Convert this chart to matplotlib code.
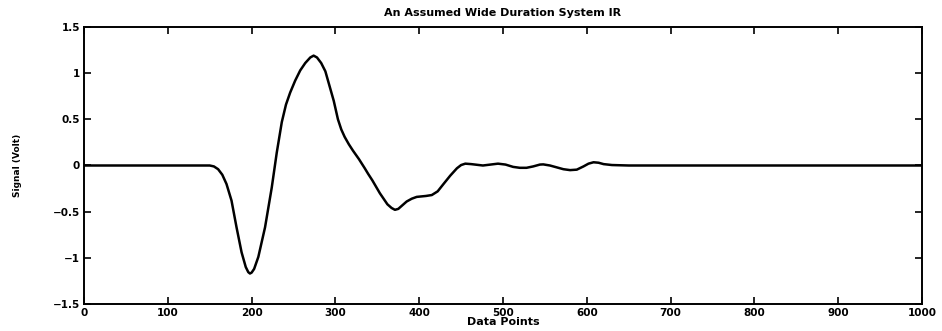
import matplotlib
matplotlib.use("Agg")
import matplotlib.pyplot as plt

# impulse response (data point, volt)
points = [0, 100, 150, 155, 160, 165, 170, 176, 182, 188, 193, 196, 198, 200,
          203, 208, 216, 224, 230, 236, 241, 246, 252, 258, 264, 270, 274, 278,
          283, 288, 293, 298, 303, 307, 311, 316, 321, 328, 335, 339, 344, 353,
          362, 367, 371, 375, 380, 385, 391, 397, 408, 415, 422, 429, 437, 445,
          450, 455, 462, 476, 485, 494, 503, 512, 520, 528, 536, 544, 548, 556,
          564, 572, 580, 588, 596, 602, 608, 614, 620, 630, 650, 1000]
signal = [0, 0, 0, -0.01, -0.04, -0.10, -0.20, -0.38, -0.67, -0.94, -1.10, -1.155,
          -1.17, -1.16, -1.12, -0.99, -0.67, -0.24, 0.14, 0.47, 0.66, 0.79, 0.92,
          1.03, 1.11, 1.17, 1.19, 1.17, 1.11, 1.02, 0.86, 0.70, 0.50, 0.39, 0.31,
          0.23, 0.16, 0.07, -0.03, -0.09, -0.16, -0.30, -0.42, -0.46, -0.48,
          -0.47, -0.43, -0.39, -0.36, -0.34, -0.33, -0.32, -0.28, -0.20, -0.11,
          -0.03, 0.005, 0.02, 0.015, 0.0, 0.01, 0.02, 0.01, -0.015, -0.025,
          -0.025, -0.01, 0.01, 0.012, 0.0, -0.02, -0.04, -0.05, -0.045, -0.01,
          0.02, 0.035, 0.03, 0.015, 0.005, 0.0, 0.0]

xticks = list(range(0, 1001, 100))
yticks = [-1.5, -1, -0.5, 0, 0.5, 1, 1.5]
ylabels = ["\u22121.5", "\u22121", "\u22120.5", "0", "0.5", "1", "1.5"]

fig = plt.figure(figsize=(9.42, 3.31), dpi=100)
ax = fig.add_axes([0.0892, 0.0816, 0.8896, 0.8368])
ax.plot(points, signal, color="black", linewidth=1.8, solid_joinstyle="round")

ax.set_xlim(0, 1000)
ax.set_ylim(-1.5, 1.5)
ax.set_xticks(xticks)
ax.set_yticks(yticks)
ax.set_yticklabels(ylabels)
ax.tick_params(direction="in", top=True, right=True, length=5, width=1.2,
               labelsize=7.5, pad=3)
for lab in ax.get_xticklabels() + ax.get_yticklabels():
    lab.set_fontweight("bold")
for sp in ax.spines.values():
    sp.set_linewidth(1.4)

ax.set_title("An Assumed Wide Duration System IR", fontsize=8, fontweight="bold", pad=8)
ax.set_xlabel("Data Points", fontsize=8, fontweight="bold", labelpad=-1)
ax.set_ylabel("Signal (Volt)", fontsize=6.5, fontweight="bold", labelpad=22)

fig.savefig("out.png", dpi=100)
